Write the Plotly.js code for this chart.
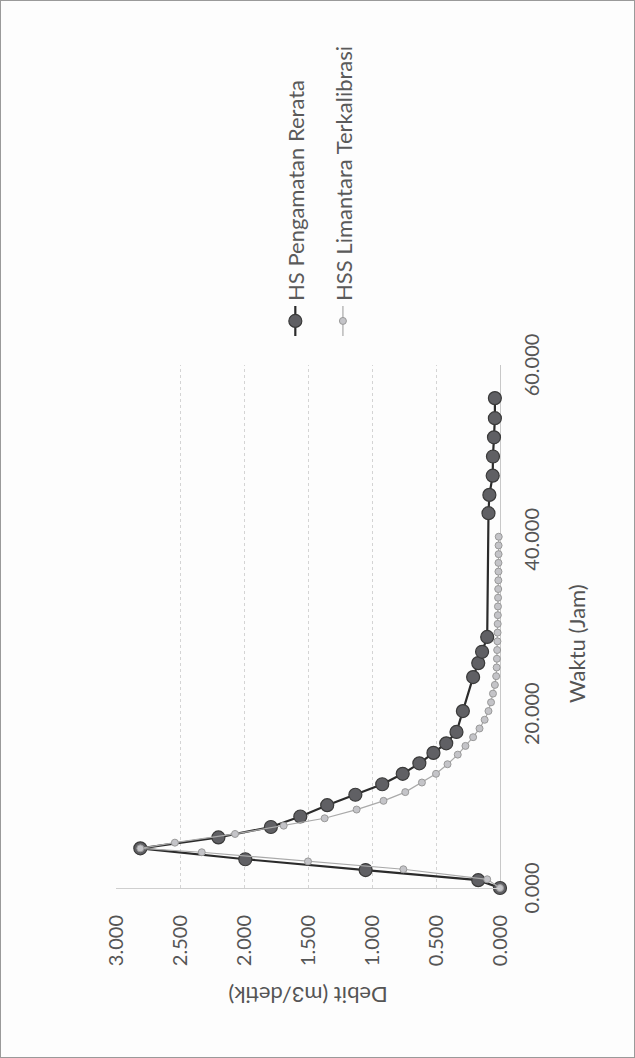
<!DOCTYPE html>
<html>
<head>
<meta charset="utf-8">
<script src="https://cdn.plot.ly/plotly-3.0.1.min.js"></script>
<style>
html,body{margin:0;padding:0;width:635px;height:1058px;overflow:hidden;background:#fdfdfd;}
#wrap{position:absolute;left:0;top:0;width:1058px;height:635px;transform-origin:0 0;transform:translate(0px,1058px) rotate(-90deg);}
#chart{width:1056px;height:633px;border:1px solid #9a9a9a;background:#fdfdfd;}
</style>
</head>
<body>
<div id="wrap"><div id="chart"></div></div>
<script>
// Series names
const seriesNames = ["HS Pengamatan Rerata", "HSS Limantara Terkalibrasi"];

// HS Pengamatan Rerata (observed) — time (jam) and discharge (m3/detik)
const obsTime = [0, 0.9, 2.06, 3.3, 4.55, 5.8, 7.0, 8.2, 9.5, 10.7, 11.9, 13.1, 14.3, 15.5, 16.6, 17.9, 20.3, 24.2, 25.8, 27.1, 28.8, 43.0, 45.1, 47.3, 49.5, 51.7, 53.9, 56.2];
const obsQ    = [0, 0.17, 1.05, 1.99, 2.81, 2.20, 1.79, 1.56, 1.35, 1.13, 0.92, 0.76, 0.63, 0.52, 0.42, 0.34, 0.29, 0.21, 0.17, 0.14, 0.10, 0.09, 0.083, 0.057, 0.055, 0.047, 0.04, 0.04];

// HSS Limantara Terkalibrasi (synthetic)
const hssTime = [0, 1.0, 2.15, 3.05, 4.1, 4.55, 5.2, 6.2, 7.15, 8.0, 9.0, 10.0, 11.0, 12.1, 13.1, 14.2, 15.3, 16.3, 17.3, 18.3, 19.3, 20.3, 21.3, 22.3, 23.3, 24.3, 25.3, 26.3, 27.3, 28.3, 29.3, 30.3, 31.3, 32.3, 33.3, 34.3, 35.3, 36.3, 37.3, 38.3, 39.3, 40.3];
const hssQ    = [0, 0.10, 0.755, 1.50, 2.33, 2.81, 2.54, 2.07, 1.69, 1.37, 1.12, 0.91, 0.74, 0.61, 0.50, 0.41, 0.33, 0.27, 0.21, 0.16, 0.12, 0.09, 0.07, 0.055, 0.04, 0.03, 0.026, 0.024, 0.022, 0.02, 0.019, 0.018, 0.017, 0.016, 0.015, 0.014, 0.013, 0.012, 0.012, 0.011, 0.011, 0.01];

// Axis text
const xTitle = "Waktu (Jam)";
const yTitle = "Debit (m3/detik)";

const FONT = "Lato, 'Open Sans', sans-serif";

const traces = [
  {
    x: obsTime, y: obsQ, name: seriesNames[0], type: "scatter", mode: "lines+markers",
    legendgroup: "a", cliponaxis: false,
    line: {color: "#2b2b2b", width: 2.2},
    marker: {symbol: "circle", size: 13, color: "#606064", line: {color: "#3a3a3a", width: 1.2}}
  },
  {
    x: hssTime, y: hssQ, name: seriesNames[1], type: "scatter", mode: "lines+markers",
    legendgroup: "b", cliponaxis: false,
    line: {color: "#a9a9a9", width: 1.2},
    marker: {symbol: "circle", size: 7, color: "#c4c4c8", line: {color: "#999999", width: 1}}
  }
];

const layout = {
  width: 1056, height: 633,
  margin: {l: 169, r: 364, t: 115, b: 134, pad: 0},
  paper_bgcolor: "#fdfdfd",
  plot_bgcolor: "#fdfdfd",
  font: {family: FONT, color: "#555555", size: 20},
  showlegend: true,
  legend: {
    x: 1.046, xanchor: "left", y: 0.47, yanchor: "middle",
    font: {family: FONT, size: 22, color: "#5a5a5a"},
    tracegroupgap: 16, traceorder: "grouped",
    bgcolor: "rgba(0,0,0,0)", borderwidth: 0
  },
  xaxis: {
    range: [0, 60], dtick: 20, tick0: 0, tickformat: ".3f",
    showgrid: false, zeroline: false, showline: false,
    ticks: "", ticklabelstandoff: 18,
    tickfont: {family: FONT, size: 20, color: "#555555"}
  },
  yaxis: {
    range: [0, 3], dtick: 0.5, tick0: 0, tickformat: ".3f",
    showgrid: true, gridcolor: "#d4d4d4", gridwidth: 1, griddash: "dot",
    zeroline: true, zerolinecolor: "#c8c8c8", zerolinewidth: 1,
    showline: true, linecolor: "#cfcfcf", linewidth: 1, mirror: false,
    ticks: "", ticklabelstandoff: 22,
    tickfont: {family: FONT, size: 20, color: "#555555"},
    title: {text: yTitle, standoff: 14, font: {family: FONT, size: 22, color: "#555555"}}
  },
  annotations: [
    {
      text: xTitle, xref: "paper", yref: "paper", x: 0.467, y: -0.198,
      xanchor: "center", yanchor: "middle", showarrow: false,
      font: {family: FONT, size: 22, color: "#555555"}
    }
  ]
};

Plotly.newPlot("chart", traces, layout, {staticPlot: true, displayModeBar: false});
</script>
</body>
</html>
